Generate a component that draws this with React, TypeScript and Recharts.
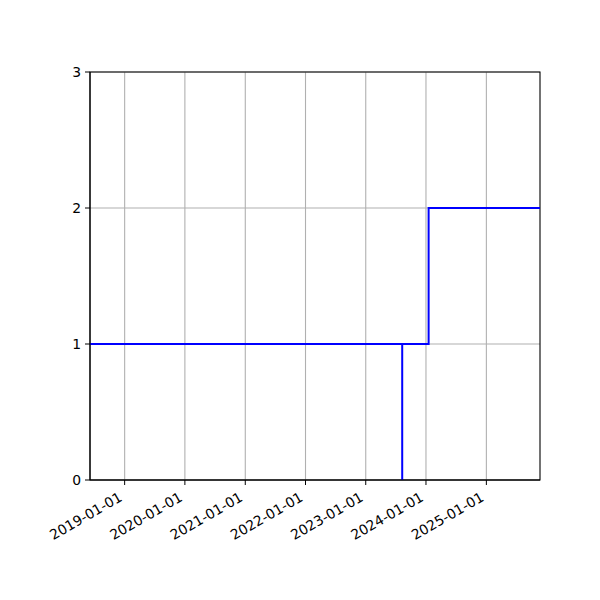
import { LineChart, Line, XAxis, YAxis, CartesianGrid, ReferenceArea } from "recharts";

const stepDates = ["2018-06-05", "2023-08-10", "2023-08-10", "2024-01-17", "2025-11-22"];
const stepValues = [1, 0, 1, 2, 2];
const xTickLabels = ["2019-01-01", "2020-01-01", "2021-01-01", "2022-01-01", "2023-01-01", "2024-01-01", "2025-01-01"];
const yTicks = [0, 1, 2, 3];
const xStart = "2018-06-05";
const xEnd = "2025-11-22";

const toTime = (s: string) => new Date(s + "T00:00:00Z").getTime();
const fmt = (t: number) => new Date(t).toISOString().slice(0, 10);

const data = stepDates.map((d, i) => ({ t: toTime(d), v: stepValues[i] }));
const xTicks = xTickLabels.map(toTime);
const font = "DejaVu Sans";

function DateTick(props: any) {
  const { x, y, payload } = props;
  const ax = x - 1.5;
  const ay = y + 13;
  return (
    <text
      x={ax}
      y={ay}
      textAnchor="end"
      fontFamily={font}
      fontSize={13.9}
      fill="#000"
      transform={`rotate(-30, ${ax}, ${ay})`}
    >
      {fmt(payload.value)}
    </text>
  );
}

export default function App() {
  return (
    <div style={{ position: "absolute", left: 0, top: 0, width: 600, height: 600, background: "#fff" }}>
      <LineChart width={600} height={600} data={data} margin={{ top: 72, right: 60, left: 0, bottom: 0 }}>
        <CartesianGrid stroke="#b0b0b0" strokeWidth={1.1} verticalValues={xTicks} horizontalValues={yTicks} />
        <XAxis
          dataKey="t"
          type="number"
          domain={[toTime(xStart), toTime(xEnd)]}
          ticks={xTicks}
          allowDataOverflow
          height={120}
          stroke="#000"
          tickSize={5}
          tickMargin={2}
          tick={<DateTick />}
          interval={0}
        />
        <YAxis
          type="number"
          domain={[0, 3]}
          ticks={yTicks}
          width={90}
          stroke="#000"
          tickSize={5}
          tickMargin={4}
          tick={{ fill: "#000", fontSize: 13.9, fontFamily: font }}
          interval={0}
        />
        <Line
          type="stepAfter"
          dataKey="v"
          stroke="#0000ff"
          strokeWidth={2}
          dot={false}
          isAnimationActive={false}
        />
        <ReferenceArea
          x1={toTime(xStart)}
          x2={toTime(xEnd)}
          y1={0}
          y2={3}
          fill="none"
          stroke="#000"
          strokeWidth={1.1}
          fillOpacity={0}
          ifOverflow="visible"
        />
      </LineChart>
    </div>
  );
}
